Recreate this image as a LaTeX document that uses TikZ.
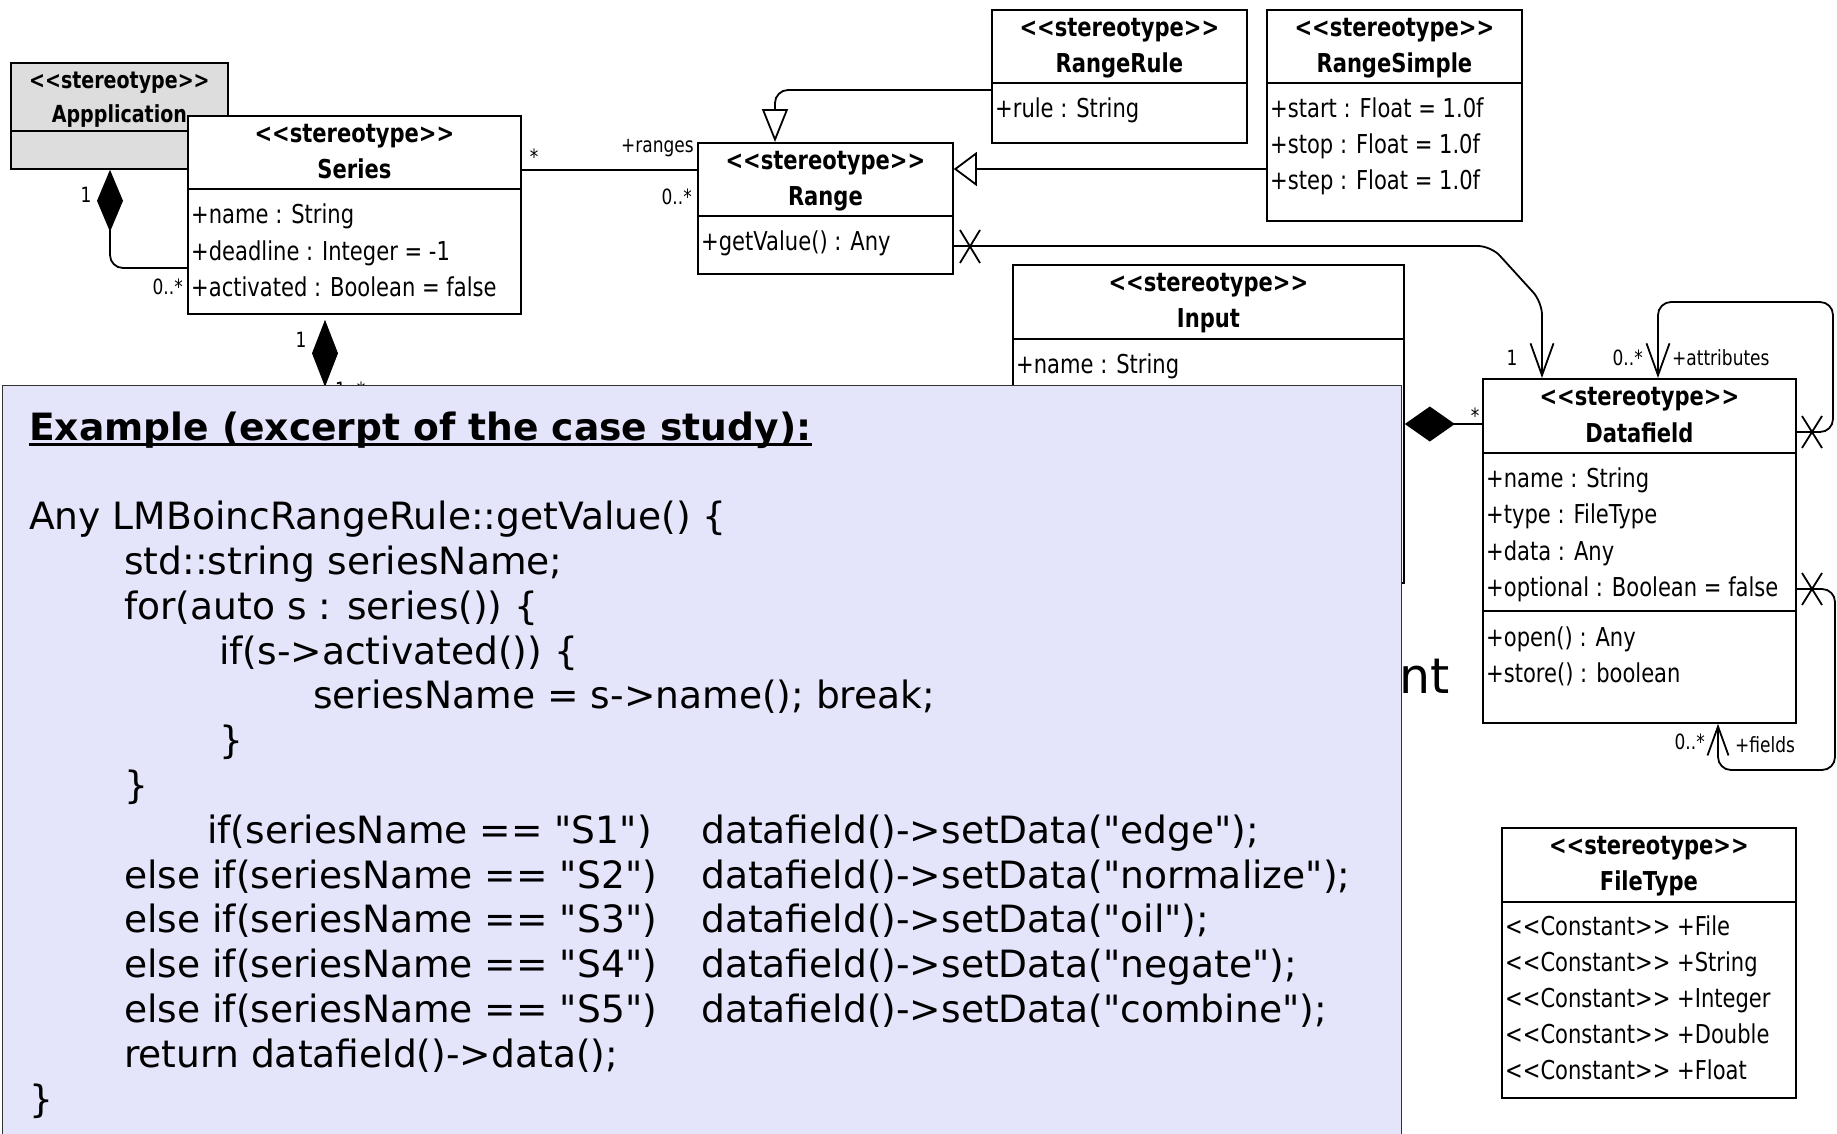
\documentclass[tikz,border=0pt]{standalone}
\usepackage{fontspec}
\usetikzlibrary{arrows.meta}

% fonts: condensed sans for the class diagram, plain sans for the code listing
\newfontfamily\umlfamily[FakeStretch=0.81]{DejaVu Sans}
\newfontfamily\codefamily{DejaVu Sans}
\newcommand\umlhdr{\umlfamily\bfseries\fontsize{26}{30}\selectfont}
\newcommand\umlsmallhdr{\umlfamily\bfseries\fontsize{23.5}{28}\selectfont}
\newcommand\umlattr{\umlfamily\fontsize{26}{30}\selectfont}
\newcommand\umllbl{\umlfamily\fontsize{21}{24}\selectfont}
\newcommand\codetxt{\codefamily\fontsize{37.6}{45}\selectfont}
\newcommand\bigtxt{\codefamily\fontsize{49}{58}\selectfont}

\definecolor{appgray}{RGB}{221,221,221}
\definecolor{codebg}{RGB}{228,228,250}
\definecolor{codeedge}{RGB}{50,50,50}

\tikzset{
  classbox/.style={draw=black, line width=1.8pt, fill=white, inner sep=0pt, anchor=north west},
  boxline/.style={line width=1.8pt},
  hdr/.style={font=\umlhdr, anchor=base, inner sep=0pt},
  attr/.style={font=\umlattr, anchor=base west, inner sep=0pt},
  lbl/.style={font=\umllbl, inner sep=0pt},
  conn/.style={line width=1.8pt, rounded corners=13pt},
  xmark/.style={line width=1.8pt},
  codeline/.style={font=\codetxt, anchor=base west, inner sep=0pt},
}

% class rectangle with its header separator: name, x, y, width, height, separator offset
\newcommand\umlclass[6]{%
  \node[classbox, minimum width=#4pt, minimum height=#5pt] (#1) at (#2,#3) {};
  \draw[boxline] ([yshift=-#6pt]#1.north west) -- ([yshift=-#6pt]#1.north east);
}
% two-line header: class node, class name, baseline offset of the name
\newcommand\umlheader[3]{%
  \node[hdr] (#1-st) at ([yshift=-27pt]#1.north) {<<stereotype>>};
  \node[hdr] (#1-nm) at ([yshift=-#3pt]#1.north) {#2};
}
% one member line: class node, line id, baseline offset, text
\newcommand\umlmember[4]{%
  \node[attr] (#1-#2) at ([xshift=4pt,yshift=-#3pt]#1.north west) {#4};
}

\begin{document}
\begin{tikzpicture}[x=1pt, y=-1pt]
\useasboundingbox (0,0) rectangle (1837,1133);
\fill[white] (0,0) rectangle (1837,1133);

% ---------- Application ----------
\node[classbox, fill=appgray, minimum width=217pt, minimum height=106pt] (app) at (10,62) {};
\draw[boxline] ([yshift=-69pt]app.north west) -- ([yshift=-69pt]app.north east);
\node[hdr, font=\umlsmallhdr] (app-st) at ([yshift=-26pt]app.north) {<<stereotype>>};
\node[hdr, font=\umlsmallhdr] (app-nm) at ([yshift=-60pt]app.north) {Appplication};

% ---------- Series ----------
\umlclass{series}{187}{115}{333}{198}{74}
\umlheader{series}{Series}{63}
\umlmember{series}{a1}{108}{+name : String}
\umlmember{series}{a2}{145}{+deadline : Integer = -1}
\umlmember{series}{a3}{181}{+activated : Boolean = false}

% ---------- Range ----------
\umlclass{range}{697}{142}{255}{131}{74}
\umlheader{range}{Range}{63}
\umlmember{range}{o1}{108}{+getValue() : Any}

% ---------- RangeRule ----------
\umlclass{rangerule}{991}{9}{255}{133}{74}
\umlheader{rangerule}{RangeRule}{63}
\umlmember{rangerule}{a1}{108}{+rule : String}

% ---------- RangeSimple ----------
\umlclass{rangesimple}{1266}{9}{255}{211}{74}
\umlheader{rangesimple}{RangeSimple}{63}
\umlmember{rangesimple}{a1}{108}{+start : Float = 1.0f}
\umlmember{rangesimple}{a2}{144}{+stop : Float = 1.0f}
\umlmember{rangesimple}{a3}{180}{+step : Float = 1.0f}

% ---------- Input ----------
\umlclass{input}{1012}{264}{391}{318}{75}
\umlheader{input}{Input}{63}
\umlmember{input}{a1}{109}{+name : String}

% ---------- Datafield ----------
\umlclass{datafield}{1482}{378}{313}{344}{75}
\draw[boxline] ([yshift=-233pt]datafield.north west) -- ([yshift=-233pt]datafield.north east);
\umlheader{datafield}{Datafield}{64}
\umlmember{datafield}{a1}{109}{+name : String}
\umlmember{datafield}{a2}{145}{+type : FileType}
\umlmember{datafield}{a3}{182}{+data : Any}
\umlmember{datafield}{a4}{218}{+optional : Boolean = false}
\umlmember{datafield}{o1}{268}{+open() : Any}
\umlmember{datafield}{o2}{304}{+store() : boolean}

% ---------- FileType ----------
\umlclass{filetype}{1501}{827}{294}{270}{75}
\umlheader{filetype}{FileType}{63}
\umlmember{filetype}{c1}{108}{<<Constant>> +File}
\umlmember{filetype}{c2}{144}{<<Constant>> +String}
\umlmember{filetype}{c3}{180}{<<Constant>> +Integer}
\umlmember{filetype}{c4}{216}{<<Constant>> +Double}
\umlmember{filetype}{c5}{252}{<<Constant>> +Float}

% ---------- connectors ----------
% Application <>-- Series
\draw[conn, {Diamond[length=62pt,width=26pt]}-] (app.south -| 110,0) -- (110,268) -- (series.west |- 0,268);
% Series -- Range
\draw[conn] (series.east |- 0,170) -- (range.west |- 0,170);
% Series <>-- (continues below the listing)
\draw[conn, shorten <=5pt, {Diamond[length=67pt,width=26pt]}-] (series.south -| 325,0) -- (325,420);
% RangeRule --|> Range
\draw[conn, -{Triangle[length=33pt,width=26pt,fill=white]}] (rangerule.west |- 0,90) -- (775,90) -- (range.north -| 775,0);
% RangeSimple --|> Range
\draw[conn, -{Triangle[length=23pt,width=34pt,fill=white]}] (rangesimple.west |- 0,169) -- (range.east |- 0,169);
% Range --> Datafield
\draw[conn, -{Straight Barb[length=32pt,width=23pt]}] (range.east |- 0,246) -- (1491,246) -- (1542,302) -- (datafield.north -| 1542,0);
\draw[xmark] (960,230) -- (980,263) (980,230) -- (960,263);
% Input <>-- Datafield
\draw[conn, {Diamond[length=50pt,width=35pt]}-] (input.east |- 0,424) -- (datafield.west |- 0,424);
% Datafield self association: attributes
\draw[conn, -{Straight Barb[length=32pt,width=23pt]}] (datafield.east |- 0,432) -- (1833,432) -- (1833,302) -- (1658,302) -- (datafield.north -| 1658,0);
\draw[xmark] (1802,416) -- (1822,448) (1822,416) -- (1802,448);
% Datafield self association: fields
\draw[conn, -{Straight Barb[length=29pt,width=21pt]}] (datafield.east |- 0,589) -- (1835,589) -- (1835,770) -- (1718,770) -- (datafield.south -| 1718,0);
\draw[xmark] (1802,573) -- (1822,605) (1822,573) -- (1802,605);

% ---------- multiplicities and role names ----------
\node[lbl] (l-app1) at (86,195) {1};
\node[lbl, anchor=east] (l-ser0) at (183,287) {0..*};
\node[lbl, anchor=base] (l-serstar) at (534,164) {*};
\node[lbl, anchor=east] (l-ranges) at (694,148) {+ranges};
\node[lbl, anchor=east] (l-rng0) at (692,197) {0..*};
\node[lbl] (l-ser1) at (301,340) {1};
\node[lbl, anchor=base west] (l-sermany) at (335,397) {1..*};
\node[lbl] (l-df1) at (1512,358) {1};
\node[lbl, anchor=east] (l-att0) at (1643,358) {0..*};
\node[lbl, anchor=west] (l-att) at (1672,358) {+attributes};
\node[lbl, anchor=base] (l-inp) at (1475,423) {*};
\node[lbl, anchor=east] (l-fld0) at (1705,742) {0..*};
\node[lbl, anchor=west] (l-fld) at (1735,745) {+fields};

% ---------- text behind the listing ----------
\node[font=\bigtxt, anchor=base west, inner sep=0pt] (nt) at (1399,693) {nt};

% ---------- code listing ----------
\node[draw=codeedge, line width=1.2pt, fill=codebg, anchor=north west, inner sep=0pt,
      minimum width=1399pt, minimum height=760pt] (codebox) at (2,385) {};

\node[codeline, font={\codetxt\bfseries}] (title) at (29,440) {Example (excerpt of the case study):};
\draw[line width=2.6pt] ([yshift=-4.5pt]title.base west) -- ([yshift=-4.5pt]title.base east);

\node[codeline] (c2) at (29,529.6) {Any LMBoincRangeRule::getValue() \{};
\node[codeline] (c3) at (124,574.4) {std::string seriesName;};
\node[codeline] (c4) at (124,619.2) {for(auto s : series()) \{};
\node[codeline] (c5) at (219,664) {if(s->activated()) \{};
\node[codeline] (c6) at (313,708.8) {seriesName = s->name(); break;};
\node[codeline] (c7) at (219,753.6) {\}};
\node[codeline] (c8) at (124,798.4) {\}};
\node[codeline] (c9) at (207,843.2) {if(seriesName == "S1")};
\node[codeline] (c9b) at (701,843.2) {datafield()->setData("edge");};
\node[codeline] (c10) at (124,888) {else if(seriesName == "S2")};
\node[codeline] (c10b) at (701,888) {datafield()->setData("normalize");};
\node[codeline] (c11) at (124,932.8) {else if(seriesName == "S3")};
\node[codeline] (c11b) at (701,932.8) {datafield()->setData("oil");};
\node[codeline] (c12) at (124,977.6) {else if(seriesName == "S4")};
\node[codeline] (c12b) at (701,977.6) {datafield()->setData("negate");};
\node[codeline] (c13) at (124,1022.4) {else if(seriesName == "S5")};
\node[codeline] (c13b) at (701,1022.4) {datafield()->setData("combine");};
\node[codeline] (c14) at (124,1067.2) {return datafield()->data();};
\node[codeline] (c15) at (29,1112) {\}};
\end{tikzpicture}
\end{document}
